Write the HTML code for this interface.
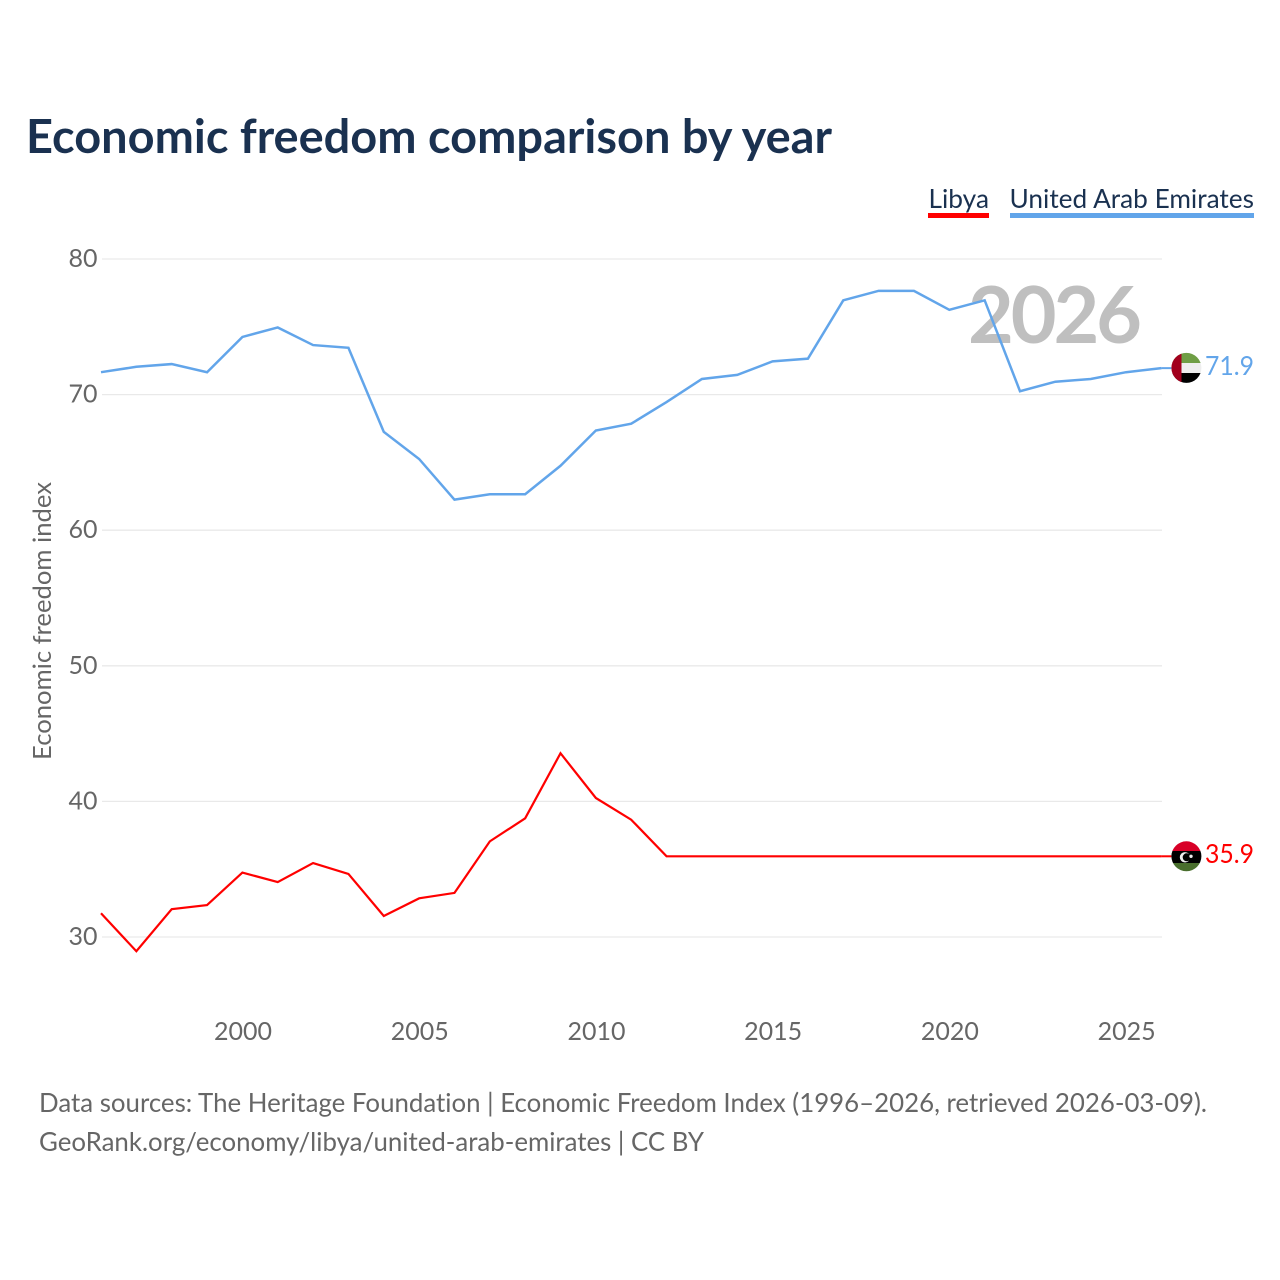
<!DOCTYPE html>
<html lang="en">
<head>
<meta charset="utf-8">
<title>Economic freedom comparison by year</title>
<style>
html,body{margin:0;padding:0;background:#fff;width:1280px;height:1280px;overflow:hidden}
svg{display:block}
text{font-family:"Lato","Carlito","Liberation Sans",sans-serif;font-variant-ligatures:none}
</style>
</head>
<body>
<svg id="chart" width="1280" height="1280" viewBox="0 0 1280 1280" xmlns="http://www.w3.org/2000/svg">
  <defs>
    <clipPath id="flag-clip-uae"><circle cx="1186.4" cy="367.9" r="15"/></clipPath>
    <clipPath id="flag-clip-libya"><circle cx="1186.4" cy="856.3" r="15"/></clipPath>
  </defs>
  <text x="26" y="153" font-size="47" font-weight="700" fill="#1a3150" textLength="806" lengthAdjust="spacingAndGlyphs">Economic freedom comparison by year</text>

  <g>
    <text x="928.5" y="208" font-size="26.5" fill="#1a3150" textLength="60.5" lengthAdjust="spacingAndGlyphs">Libya</text>
    <rect x="928" y="213" width="61" height="5" fill="#ff0000"/>
  </g>
  <g>
    <text x="1009.5" y="208" font-size="26.5" fill="#1a3150" textLength="244.5" lengthAdjust="spacingAndGlyphs">United Arab Emirates</text>
    <rect x="1010" y="213" width="244" height="5" fill="#62a5ea"/>
  </g>

  <g id="grid"></g>
  <g id="y-ticks"></g>
  <g id="x-ticks"></g>

  <text transform="translate(51 760) rotate(-90)" font-size="25" fill="#666666" textLength="278" lengthAdjust="spacingAndGlyphs">Economic freedom index</text>

  <text id="year-label" x="968" y="343" font-size="79" font-weight="700" fill="#bfbfbf" textLength="174" lengthAdjust="spacing">2026</text>

  <g id="series" transform="translate(-0.6 -0.7)"></g>

  <g clip-path="url(#flag-clip-uae)">
    <rect x="1171" y="352" width="31" height="11" fill="#6f9e45"/>
    <rect x="1171" y="363" width="31" height="10" fill="#eeeeee"/>
    <rect x="1171" y="373" width="31" height="11" fill="#000000"/>
    <rect x="1171" y="352" width="10.5" height="32" fill="#a2001d"/>
  </g>
  <g clip-path="url(#flag-clip-libya)">
    <rect x="1171" y="841" width="31" height="10" fill="#d80027"/>
    <rect x="1171" y="851" width="31" height="12" fill="#000000"/>
    <rect x="1171" y="863" width="31" height="9" fill="#496e2d"/>
    <circle cx="1185" cy="857.3" r="5.2" fill="#eeeeee"/>
    <circle cx="1186.7" cy="857.3" r="4" fill="#000000"/>
    <circle cx="1191" cy="856.3" r="1.7" fill="#eeeeee"/>
  </g>

  <text id="value-uae" x="1205" y="375" font-size="26" fill="#62a5ea" textLength="49" lengthAdjust="spacingAndGlyphs">71.9</text>
  <text id="value-libya" x="1205" y="863" font-size="26" fill="#ff0000" textLength="49" lengthAdjust="spacingAndGlyphs">35.9</text>

  <g>
    <text x="39" y="1112" font-size="26" fill="#666666" textLength="1168" lengthAdjust="spacingAndGlyphs">Data sources: The Heritage Foundation | Economic Freedom Index (1996–2026, retrieved 2026-03-09).</text>
    <text x="39" y="1151" font-size="26" fill="#666666" textLength="665" lengthAdjust="spacingAndGlyphs">GeoRank.org/economy/libya/united-arab-emirates | CC BY</text>
  </g>
</svg>
<script>
const years = [1996,1997,1998,1999,2000,2001,2002,2003,2004,2005,2006,2007,2008,2009,2010,2011,2012,2013,2014,2015,2016,2017,2018,2019,2020,2021,2022,2023,2024,2025,2026];
const uaeValues = [71.6,72.0,72.2,71.6,74.2,74.9,73.6,73.4,67.2,65.2,62.2,62.6,62.6,64.7,67.3,67.8,69.4,71.1,71.4,72.4,72.6,76.9,77.6,77.6,76.2,76.9,70.2,70.9,71.1,71.6,71.9];
const libyaValues = [31.7,28.9,32.0,32.3,34.7,34.0,35.4,34.6,31.5,32.8,33.2,37.0,38.7,43.5,40.2,38.6,35.9,35.9,35.9,35.9,35.9,35.9,35.9,35.9,35.9,35.9,35.9,35.9,35.9,35.9,35.9];
const yTickValues = [30,40,50,60,70,80];
const xTickValues = [2000,2005,2010,2015,2020,2025];

const NS = 'http://www.w3.org/2000/svg';
function xScale(year){ return 101.6 + (year - 1996) * (1162 - 101.6) / 30; }
function yScale(value){ return 937 - (value - 30) * (937 - 259) / 50; }

const gridLayer = document.getElementById('grid');
const yLayer = document.getElementById('y-ticks');
const xLayer = document.getElementById('x-ticks');
const seriesLayer = document.getElementById('series');

yTickValues.forEach(function(v){
  const line = document.createElementNS(NS, 'line');
  
  
  line.setAttribute('x1', 102);
  line.setAttribute('x2', 1162);
  line.setAttribute('y1', yScale(v));
  line.setAttribute('y2', yScale(v));
  line.setAttribute('stroke', '#e9e9e9');
  line.setAttribute('stroke-width', '1.3');
  gridLayer.appendChild(line);

  const label = document.createElementNS(NS, 'text');
  
  
  label.setAttribute('x', 97.5);
  label.setAttribute('y', yScale(v) + 8);
  label.setAttribute('text-anchor', 'end');
  label.setAttribute('font-size', '25');
  label.setAttribute('fill', '#666666');
  label.textContent = String(v);
  yLayer.appendChild(label);
});

xTickValues.forEach(function(v){
  const label = document.createElementNS(NS, 'text');
  
  
  label.setAttribute('x', xScale(v));
  label.setAttribute('y', 1040);
  label.setAttribute('text-anchor', 'middle');
  label.setAttribute('font-size', '25');
  label.setAttribute('fill', '#666666');
  label.textContent = String(v);
  xLayer.appendChild(label);
});

function pathFrom(values){
  return values.map(function(v, i){
    return (i ? 'L' : 'M') + xScale(years[i]).toFixed(2) + ' ' + yScale(v).toFixed(2);
  }).join(' ');
}

const uaeLine = document.createElementNS(NS, 'path');


uaeLine.setAttribute('d', pathFrom(uaeValues));
uaeLine.setAttribute('fill', 'none');
uaeLine.setAttribute('stroke', '#62a5ea');
uaeLine.setAttribute('stroke-width', '2.5');
seriesLayer.appendChild(uaeLine);

const libyaLine = document.createElementNS(NS, 'path');


libyaLine.setAttribute('d', pathFrom(libyaValues));
libyaLine.setAttribute('fill', 'none');
libyaLine.setAttribute('stroke', '#ff0000');
libyaLine.setAttribute('stroke-width', '2.2');
seriesLayer.appendChild(libyaLine);

const uaeConnector = document.createElementNS(NS, 'line');


uaeConnector.setAttribute('x1', xScale(2026));
uaeConnector.setAttribute('x2', 1172);
uaeConnector.setAttribute('y1', yScale(uaeValues[30]));
uaeConnector.setAttribute('y2', yScale(uaeValues[30]));
uaeConnector.setAttribute('stroke', '#62a5ea');
uaeConnector.setAttribute('stroke-width', '2');
seriesLayer.appendChild(uaeConnector);

const libyaConnector = document.createElementNS(NS, 'line');


libyaConnector.setAttribute('x1', xScale(2026));
libyaConnector.setAttribute('x2', 1172);
libyaConnector.setAttribute('y1', yScale(libyaValues[30]));
libyaConnector.setAttribute('y2', yScale(libyaValues[30]));
libyaConnector.setAttribute('stroke', '#ff0000');
libyaConnector.setAttribute('stroke-width', '2');
seriesLayer.appendChild(libyaConnector);

document.getElementById('value-uae').textContent = uaeValues[30].toFixed(1);
document.getElementById('value-libya').textContent = libyaValues[30].toFixed(1);
document.getElementById('year-label').textContent = String(years[30]);
</script>
</body>
</html>
